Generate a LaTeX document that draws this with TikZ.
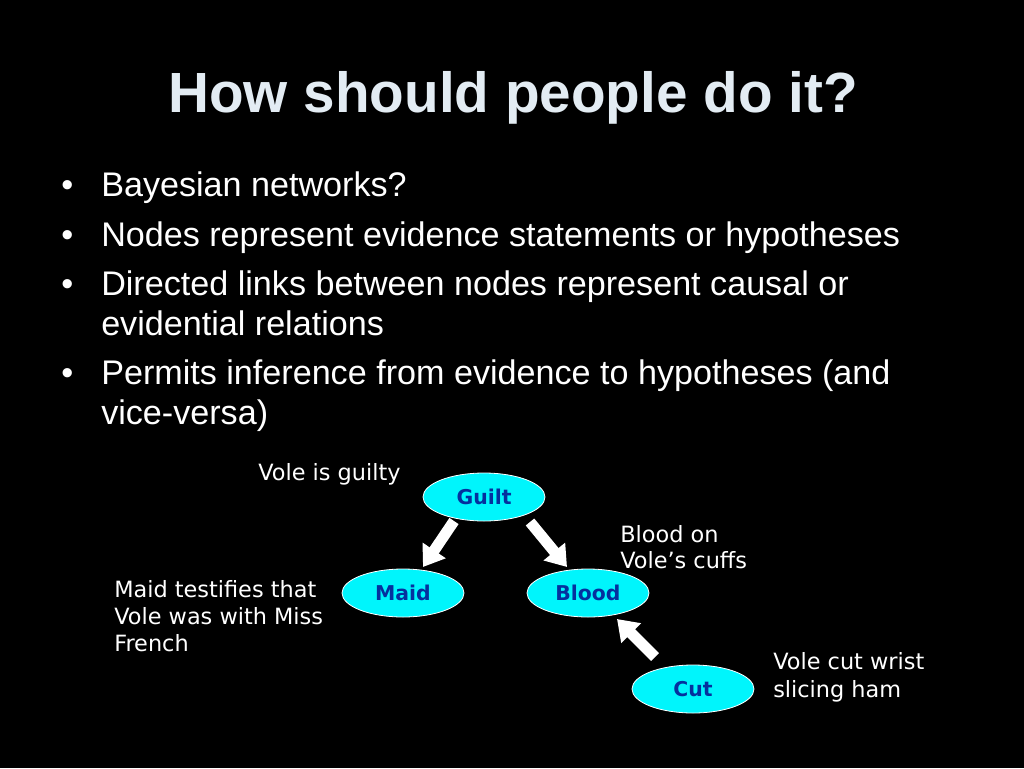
\documentclass[tikz,border=0pt]{standalone}
\usepackage{fontspec}
\setmainfont{Liberation Sans}
\newfontfamily\vfont{DejaVu Sans}
\usetikzlibrary{shapes.geometric,arrows.meta}
\definecolor{titlecol}{RGB}{227,236,243}
\definecolor{nodefill}{RGB}{0,245,252}
\definecolor{nodetext}{RGB}{5,48,158}
\tikzset{
  title/.style={anchor=base, inner sep=0, text=titlecol, font=\fontsize{42.5pt}{50pt}\selectfont\bfseries},
  bullettext/.style={anchor=base west, inner sep=0, text=white, font=\fontsize{25.6pt}{30pt}\selectfont},
  label/.style={anchor=base west, inner sep=0, text=white, font=\vfont\fontsize{16.8pt}{20pt}\selectfont},
  bnode/.style={ellipse, draw=white, line width=0.6pt, fill=nodefill, minimum width=91.5pt, minimum height=36pt, inner sep=0, text=nodetext, font=\vfont\bfseries\fontsize{15.3pt}{18pt}\selectfont},
  barrow/.style={draw=white, line width=8.25pt, line cap=butt, -{Triangle[length=15pt,width=20pt]}}
}
\begin{document}
\begin{tikzpicture}[x=0.75pt,y=-0.75pt]
\fill[black] (0,0) rectangle (1024,768);
\useasboundingbox (0,0) rectangle (1024,768);
% title
\node[title] (ttl) at (513,112) {How should people do it?};
% bullets
\node[bullettext] (b1) at (61,196) {•};
\node[bullettext] (t1) at (101,196) {Bayesian networks?};
\node[bullettext] (b2) at (61,246) {•};
\node[bullettext] (t2) at (101,246) {Nodes represent evidence statements or hypotheses};
\node[bullettext] (b3) at (61,295) {•};
\node[bullettext] (t3) at (101,295) {Directed links between nodes represent causal or};
\node[bullettext] (t3b) at (101,335) {evidential relations};
\node[bullettext] (b4) at (61,384) {•};
\node[bullettext] (t4) at (101,384) {Permits inference from evidence to hypotheses (and};
\node[bullettext] (t4b) at (101,424) {vice-versa)};
% network nodes
\node[bnode] (guilt) at (484,497) {Guilt};
\node[bnode] (maid) at (403,593) {Maid};
\node[bnode] (blood) at (588,593) {Blood};
\node[bnode] (cut) at (693,689) {Cut};
% arrows
\draw[barrow] ([shift={(-30,24)}]guilt.center) -- ([shift={(20,-26)}]maid.center);
\draw[barrow] ([shift={(46,25)}]guilt.center) -- ([shift={(-21,-26)}]blood.center);
\draw[barrow] ([shift={(-38,-32)}]cut.center) -- ([shift={(29,26)}]blood.center);
% labels
\node[label] (lg) at (258,480) {Vole is guilty};
\node[label] (lb1) at (620,542) {Blood on};
\node[label] (lb2) at (620,568) {Vole’s cuffs};
\node[label] (lm1) at (114,597) {Maid testifies that};
\node[label] (lm2) at (114,624) {Vole was with Miss};
\node[label] (lm3) at (114,651) {French};
\node[label] (lc1) at (773,669) {Vole cut wrist};
\node[label] (lc2) at (773,697) {slicing ham};
\end{tikzpicture}
\end{document}
